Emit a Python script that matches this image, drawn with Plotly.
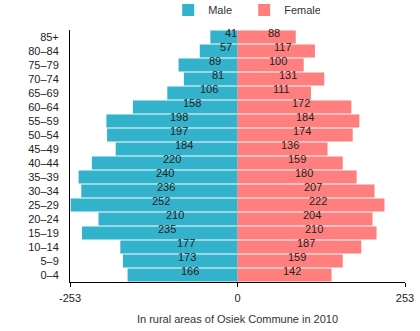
import plotly.graph_objects as go

ages = ["0–4", "5–9", "10–14", "15–19", "20–24", "25–29", "30–34", "35–39", "40–44",
        "45–49", "50–54", "55–59", "60–64", "65–69", "70–74", "75–79", "80–84", "85+"]
male = [166, 173, 177, 235, 210, 252, 236, 240, 220, 184, 197, 198, 158, 106, 81, 89, 57, 41]
female = [142, 159, 187, 210, 204, 222, 207, 180, 159, 136, 174, 184, 172, 111, 131, 100, 117, 88]
axis_max = 253
tick_vals = [-axis_max, 0, axis_max]
tick_text = ["-253", "0", "253"]
title = "In rural areas of Osiek Commune in 2010"

MALE_C = "#33b2cc"
FEMALE_C = "#ff7f7f"
FONT = "Liberation Sans, Arial, sans-serif"

fig = go.Figure()
fig.add_trace(go.Bar(y=ages, x=[-v for v in male], orientation="h", name="Male",
                     marker=dict(color=MALE_C, line=dict(width=0)), hoverinfo="skip"))
fig.add_trace(go.Bar(y=ages, x=female, orientation="h", name="Female",
                     marker=dict(color=FEMALE_C, line=dict(width=0)), hoverinfo="skip"))

for a, m, f in zip(ages, male, female):
    fig.add_annotation(x=-m / 2, y=a, text=str(m), showarrow=False, xshift=7, yshift=4,
                       font=dict(size=11, color="#222", family=FONT))
    fig.add_annotation(x=f / 2, y=a, text=str(f), showarrow=False, xshift=7, yshift=4,
                       font=dict(size=11, color="#222", family=FONT))

fig.update_layout(
    width=420, height=331,
    margin=dict(l=70, r=15, t=30, b=49, pad=0, autoexpand=False),
    barmode="relative", bargap=0.07,
    plot_bgcolor="white", paper_bgcolor="white",
    font=dict(family=FONT, size=11, color="#222"),
    showlegend=True,
    legend=dict(orientation="h", x=0.52, xanchor="center", y=1.079, yanchor="middle",
                font=dict(size=11, color="#333"), traceorder="normal",
                entrywidth=31, entrywidthmode="pixels"),
    xaxis=dict(range=[-axis_max, axis_max], tickvals=tick_vals, ticktext=tick_text,
               showline=True, linecolor="black", linewidth=1, ticks="outside",
               ticklen=4, tickcolor="black", showgrid=True, gridcolor="#dddddd",
               zeroline=False, fixedrange=True, ticklabelstandoff=2,
               title=dict(text=title, font=dict(size=11, color="#333"), standoff=12)),
    yaxis=dict(categoryorder="array", categoryarray=ages, range=[-0.5, len(ages) - 0.5],
               showline=True, linecolor="black", linewidth=1, ticks="", showgrid=False,
               zeroline=False, fixedrange=True, ticklabelstandoff=8),
)

fig.write_html("out.html")
